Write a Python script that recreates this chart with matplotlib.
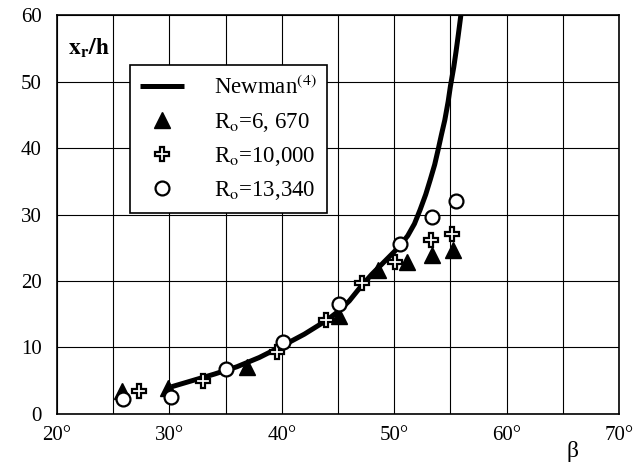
import matplotlib.pyplot as plt
from matplotlib.ticker import MultipleLocator

plt.rcParams['font.family'] = 'Liberation Serif'
plt.rcParams['mathtext.fontset'] = 'stix'

# Newman^(4) curve
beta_newman = [30.2, 32, 34, 36, 38, 40, 42, 44, 45, 46, 47, 48, 49, 50,
               50.5, 51.2, 51.8, 52.3, 52.8, 53.2, 53.6, 53.9, 54.2, 54.5,
               54.8, 55.0, 55.3, 55.5, 55.7, 55.9, 56.0]
xr_newman = [4.1, 5.0, 6.0, 7.1, 8.5, 10.2, 12.0, 14.1, 15.4, 17.0, 19.1,
             21.0, 22.7, 24.4, 25.3, 26.8, 28.6, 30.7, 33.0, 35.2, 37.5,
             39.7, 42.0, 44.2, 47.0, 49.3, 52.2, 54.5, 57.0, 59.6, 61]

# R_o = 6,670 (filled triangles)
beta_tri = [25.8, 29.9, 36.9, 45.1, 48.6, 51.1, 53.4, 55.2]
xr_tri = [3.4, 3.9, 7.1, 14.8, 21.7, 22.9, 23.9, 24.6]

# R_o = 10,000 (open crosses)
beta_plus = [27.3, 33.0, 39.6, 43.9, 47.1, 50.1, 53.3, 55.1]
xr_plus = [3.4, 4.9, 9.3, 14.2, 19.7, 22.8, 26.2, 27.0]

# R_o = 13,340 (open circles)
beta_circ = [25.9, 30.1, 35.0, 40.1, 45.1, 50.5, 53.4, 55.5]
xr_circ = [2.2, 2.5, 6.8, 10.9, 16.5, 25.6, 29.6, 32.0]

fig = plt.figure(figsize=(6.43, 4.65), dpi=100)
ax = fig.add_axes([0.0887, 0.1097, 0.8740, 0.8580])

ax.plot(beta_newman, xr_newman, color='black', lw=3.6, zorder=3,
        solid_capstyle='butt', solid_joinstyle='round', label='Newman$^{(4)}$')
ax.plot(beta_tri, xr_tri, '^', color='black', ms=11, ls='none', zorder=4,
        label=r'R$_{\rm o}$=6, 670')
ax.plot(beta_plus, xr_plus, 'P', mfc='white', mec='black', mew=1.6, ms=10,
        ls='none', zorder=5, label=r'R$_{\rm o}$=10,000')
ax.plot(beta_circ, xr_circ, 'o', mfc='white', mec='black', mew=1.6, ms=10,
        ls='none', zorder=6, label=r'R$_{\rm o}$=13,340')

ax.set_xlim(20, 70)
ax.set_ylim(0, 60)
ax.xaxis.set_major_locator(MultipleLocator(10))
ax.xaxis.set_minor_locator(MultipleLocator(5))
ax.yaxis.set_major_locator(MultipleLocator(10))
ax.set_xticklabels([f'{int(v)}°' for v in ax.get_xticks()])
ax.grid(True, which='both', color='black', lw=0.8)
ax.set_axisbelow(True)
ax.tick_params(which='both', length=0, labelsize=15)
ax.tick_params(axis='y', pad=11)
ax.tick_params(axis='x', pad=9)
for s in ax.spines.values():
    s.set_linewidth(1.2)

ax.text(21.0, 55.0, r'$\mathbf{x_r/h}$', fontsize=17, va='center', ha='left')
ax.text(65.9, -5.6, 'β', fontsize=17, va='center', ha='center', clip_on=False)

leg = ax.legend(loc='upper left', bbox_to_anchor=(0.13, 0.875), fontsize=16.5,
                frameon=True, fancybox=False, edgecolor='black',
                framealpha=1, handlelength=1.9, borderpad=0.45,
                labelspacing=0.5, handletextpad=1.3, borderaxespad=0)
leg.get_frame().set_linewidth(1.2)

fig.savefig('out.png', dpi=100)
